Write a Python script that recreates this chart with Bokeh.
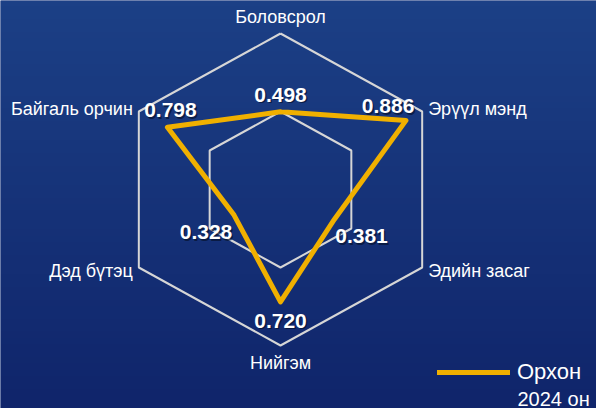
import numpy as np
from bokeh.plotting import figure
from bokeh.models import Range1d, Legend, LegendItem, Label, ColumnDataSource
from bokeh.core.properties import value
from bokeh.embed import file_html
from bokeh.resources import INLINE

categories = ["Боловсрол", "Эрүүл мэнд", "Эдийн засаг", "Нийгэм", "Дэд бүтэц", "Байгаль орчин"]
values = [0.498, 0.886, 0.381, 0.720, 0.328, 0.798]
value_labels = ["0.498", "0.886", "0.381", "0.720", "0.328", "0.798"]
grid_levels = [0.5, 1.0]
series_name = "Орхон"
series_sub = "2024 он"

angles = np.deg2rad([90, 30, -30, -90, -150, 150])

W, H = 596, 408
cx_px, cy_px = 280, 189
sx, sy = 163.6, 156.0

p = figure(width=W, height=H, output_backend="svg", toolbar_location=None,
           x_range=Range1d(-cx_px / sx, (W - cx_px) / sx),
           y_range=Range1d(-(H - cy_px) / sy, cy_px / sy),
           min_border=0, outline_line_color=None)
p.axis.visible = False
p.grid.visible = False
p.background_fill_color = "#16337a"
p.border_fill_color = "#16337a"

# gradient background
n = 64
top = np.array([28, 64, 134])
bot = np.array([16, 37, 107])
t = np.linspace(0, 1, n)[:, None]
cols = (bot * (1 - t) + top * t).astype(np.uint32)
img = np.empty((n, 1), dtype=np.uint32)
view = img.view(dtype=np.uint8).reshape((n, 1, 4))
view[:, :, 0] = cols[:, 0:1]
view[:, :, 1] = cols[:, 1:2]
view[:, :, 2] = cols[:, 2:3]
view[:, :, 3] = 255
p.image_rgba(image=[img], x=p.x_range.start, y=p.y_range.start,
             dw=p.x_range.end - p.x_range.start, dh=p.y_range.end - p.y_range.start)

# grid hexagons
for lv in grid_levels:
    gx = list(lv * np.cos(angles)) + [lv * np.cos(angles[0])]
    gy = list(lv * np.sin(angles)) + [lv * np.sin(angles[0])]
    p.line(gx, gy, line_color="#d6d6d6", line_width=2)

# data polygon
vx = np.array(values) * np.cos(angles)
vy = np.array(values) * np.sin(angles)
r = p.line(list(vx) + [vx[0]], list(vy) + [vy[0]], line_color="#f0b000", line_width=5,
           line_join="round", line_cap="round")

# category labels
lx = np.cos(angles)
ly = np.sin(angles)
cat_align = ["center", "left", "left", "center", "right", "right"]
cat_xoff = [0, 6, 6, 0, -6, -6]
cat_yoff = [-17, -3, 3, 17, 3, -3]
p.text(x=lx, y=ly, text=categories, text_align=cat_align, text_baseline="middle",
       x_offset=cat_xoff, y_offset=cat_yoff, text_color="white",
       text_font=value("Liberation Sans"), text_font_size="18px")

# value labels with shadow
v_xoff = [0, -18, 27, 0, -28, 3]
v_yoff = [-17, -14, 17, 19, 17, -17]
src = ColumnDataSource(dict(x=vx, y=vy, t=value_labels,
                            xo=[a + 1.5 for a in v_xoff], yo=[b + 1.5 for b in v_yoff],
                            xw=v_xoff, yw=v_yoff))
p.text(x="x", y="y", text="t", source=src, x_offset="xo", y_offset="yo",
       text_align="center", text_baseline="middle", text_color="#06122e", text_alpha=0.7,
       text_font=value("Liberation Sans"), text_font_style="bold", text_font_size="21px")
p.text(x="x", y="y", text="t", source=src, x_offset="xw", y_offset="yw",
       text_align="center", text_baseline="middle", text_color="white",
       text_font=value("Liberation Sans"), text_font_style="bold", text_font_size="21px")

legend = Legend(items=[LegendItem(label=series_name, renderers=[r])],
                location=(437, 23), padding=0, margin=0, spacing=0,
                glyph_width=73, glyph_height=24, label_height=24, label_standoff=7,
                label_text_color="white", label_text_font="Liberation Sans",
                label_text_font_size="22px", background_fill_alpha=0,
                border_line_alpha=0)
p.add_layout(legend)
p.add_layout(Label(x=517, y=10, x_units="screen", y_units="screen", text=series_sub,
                   text_color="white", text_font="Liberation Sans", text_font_size="20px",
                   text_baseline="middle"))

open("out.html", "w").write(file_html(p, INLINE))
